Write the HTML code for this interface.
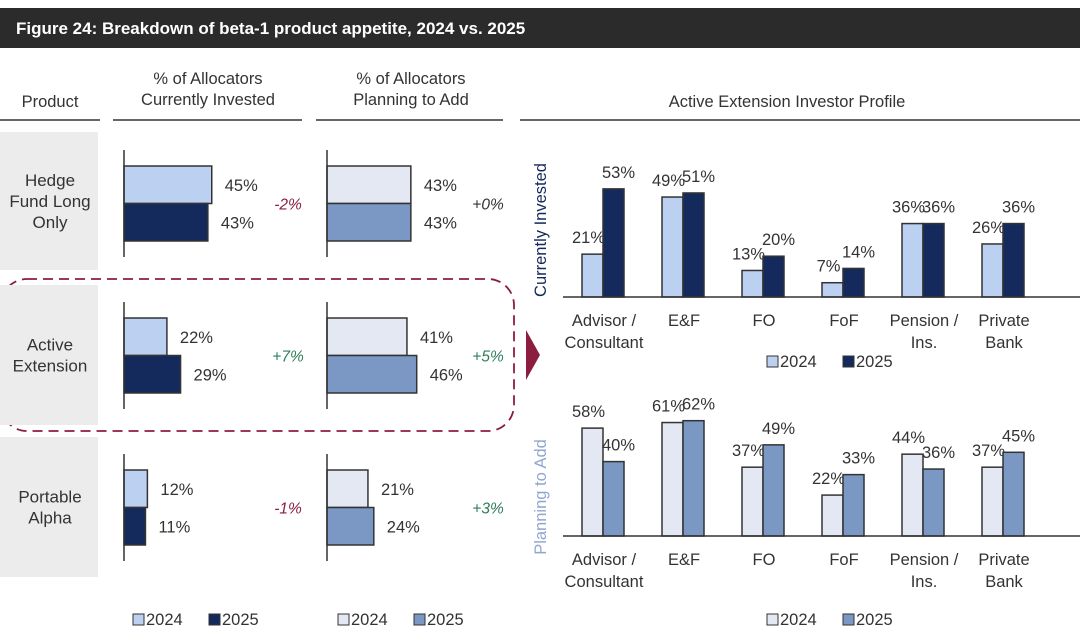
<!DOCTYPE html>
<html><head><meta charset="utf-8"><style>
body{margin:0;background:#fff;font-family:"Liberation Sans",sans-serif;}
svg{display:block}
text{font-family:"Liberation Sans",sans-serif;fill:#333;}
</style></head><body>
<svg id="c" width="1080" height="635" viewBox="0 0 1080 635">
<rect x="0" y="8" width="1080" height="40" fill="#2b2b2b"/>
<text x="16" y="34" font-size="17" font-weight="bold" style="fill:#fff">Figure 24: Breakdown of beta-1 product appetite, 2024 vs. 2025</text>
<text x="50" y="107" font-size="16.5" text-anchor="middle">Product</text>
<text x="208" y="84" font-size="16.5" text-anchor="middle"><tspan x="208">% of Allocators</tspan><tspan x="208" dy="21">Currently Invested</tspan></text>
<text x="411" y="84" font-size="16.5" text-anchor="middle"><tspan x="411">% of Allocators</tspan><tspan x="411" dy="21">Planning to Add</tspan></text>
<text x="787" y="107" font-size="16.5" text-anchor="middle">Active Extension Investor Profile</text>
<g stroke="#333" stroke-width="1.5">
<line x1="0" y1="120" x2="100" y2="120"/><line x1="113" y1="120" x2="302" y2="120"/><line x1="316" y1="120" x2="503" y2="120"/><line x1="520" y1="120" x2="1080" y2="120"/>
</g>
<rect x="1" y="279" width="513" height="152" rx="26" fill="none" stroke="#8b1e3f" stroke-width="1.8" stroke-dasharray="10,6"/>
<polygon points="526,330 540,355 526,380" fill="#8b1e3f"/>
<g id="left"></g>
<g id="right"></g>
</svg>
<script>
const products=["Hedge Fund Long Only","Active Extension","Portable Alpha"];
const productLines=[["Hedge","Fund Long","Only"],["Active","Extension"],["Portable","Alpha"]];
const inv2024=[45,22,12];
const inv2025=[43,29,11];
const add2024=[43,41,21];
const add2025=[43,46,24];
const invDiff=["-2%","+7%","-1%"];
const addDiff=["+0%","+5%","+3%"];
const categories=[["Advisor /","Consultant"],["E&F"],["FO"],["FoF"],["Pension /","Ins."],["Private","Bank"]];
const ci2024=[21,49,13,7,36,26];
const ci2025=[53,51,20,14,36,36];
const pa2024=[58,61,37,22,44,37];
const pa2025=[40,62,49,33,36,45];

const NS="http://www.w3.org/2000/svg";
function mk(tag,attrs,parent,txt){const e=document.createElementNS(NS,tag);for(const k in attrs)e.setAttribute(k,attrs[k]);if(txt!==undefined)e.textContent=txt;parent.appendChild(e);return e;}
const L=document.getElementById('left'),R=document.getElementById('right');
const C={lb:"#bcd0f2",nv:"#142a5c",pl:"#e3e8f2",mb:"#7b98c5",red:"#8b1e3f",grn:"#2e7d5b"};
const cellTop=[132,285,437],cellH=[138,140,140];
const barTop=[166,318,470];
const hx=v=>v*1.95;
products.forEach((p,i)=>{
  let r=mk('rect',{x:0,y:cellTop[i],width:98,height:cellH[i],fill:"#ececec"},L);
  
  
  const lines=productLines[i];const cy=cellTop[i]+cellH[i]/2;
  let t=mk('text',{x:50,y:cy-(lines.length-1)*10.5+6,"font-size":17,"text-anchor":"middle"},L);
  
  
  lines.forEach((ln,j)=>{mk('tspan',{x:50,dy:j?21:0},t,ln);});
  [[124,inv2024,inv2025,C.lb,C.nv,invDiff,288],[327,add2024,add2025,C.pl,C.mb,addDiff,488]].forEach(([ax,a,b,c1,c2,d,dx])=>{
    const y0=barTop[i],bh=37.5;
    let b1=mk('rect',{x:ax,y:y0,width:hx(a[i]),height:bh,fill:c1,stroke:"#333","stroke-width":1.5},L);
    
    
    let b2=mk('rect',{x:ax,y:y0+bh,width:hx(b[i]),height:bh,fill:c2,stroke:"#333","stroke-width":1.5},L);
    
    
    let l1=mk('text',{x:ax+hx(a[i])+13,y:y0+25,"font-size":16.5},L,a[i]+"%");
    
    
    let l2=mk('text',{x:ax+hx(b[i])+13,y:y0+bh+25,"font-size":16.5},L,b[i]+"%");
    
    
    const neg=d[i][0]==="-";
    let dt=mk('text',{x:dx,y:y0+bh+6,"font-size":15.5,"font-style":"italic","text-anchor":"middle",style:"fill:"+(neg?C.red:(d[i]==="+0%"?"#333":C.grn))},L,d[i]);
    
    
    let axl=mk('line',{x1:ax,y1:y0-16,x2:ax,y2:y0+2*bh+16,stroke:"#333","stroke-width":1.5},L);
    
    
  });
});
function legend(x,y,c1,c2,parent){
  const g=mk('g',{},parent);
  
  
  mk('rect',{x:x,y:y-11,width:11,height:11,fill:c1,stroke:"#333","stroke-width":1},g);
  mk('text',{x:x+13,y:y,"font-size":16.5},g,"2024");
  mk('rect',{x:x+76,y:y-11,width:11,height:11,fill:c2,stroke:"#333","stroke-width":1},g);
  mk('text',{x:x+89,y:y,"font-size":16.5},g,"2025");
}
legend(133,625,C.lb,C.nv,L);
legend(338,625,C.pl,C.mb,L);
function colChart(base,scale,a,b,c1,c2,title,tcol,tY,legY){
  const bw=21;
  categories.forEach((cat,i)=>{
    const x0=582+i*80;
    [[a,c1,0],[b,c2,bw]].forEach(([s,c,off])=>{
      const h=s[i]*scale;
      let r=mk('rect',{x:x0+off,y:base-h,width:bw,height:h,fill:c,stroke:"#333","stroke-width":1.5},R);
      
      
      let t=mk('text',{x:x0+off+bw/2+(off?5:-4),y:base-h-11,"font-size":16.5,"text-anchor":"middle"},R,s[i]+"%");
      
      
    });
    let t=mk('text',{x:x0+bw+1,y:base+29,"font-size":16.5,"text-anchor":"middle"},R);
    
    
    cat.forEach((ln,j)=>mk('tspan',{x:x0+bw+1,dy:j?22:0},t,ln));
  });
  let ax=mk('line',{x1:563,y1:base,x2:1080,y2:base,stroke:"#333","stroke-width":1.5},R);
  
  
  let yt=mk('text',{x:0,y:0,"font-size":16.5,"text-anchor":"middle",transform:`translate(546,${tY}) rotate(-90)`,style:"fill:"+tcol},R,title);
  
  
  legend(767,legY,c1,c2,R);
}
colChart(297,2.04,ci2024,ci2025,C.lb,C.nv,"Currently Invested","#14295a",230,367);
colChart(536,1.86,pa2024,pa2025,C.pl,C.mb,"Planning to Add","#8fa6d0",497,625);
</script>
</body></html>
